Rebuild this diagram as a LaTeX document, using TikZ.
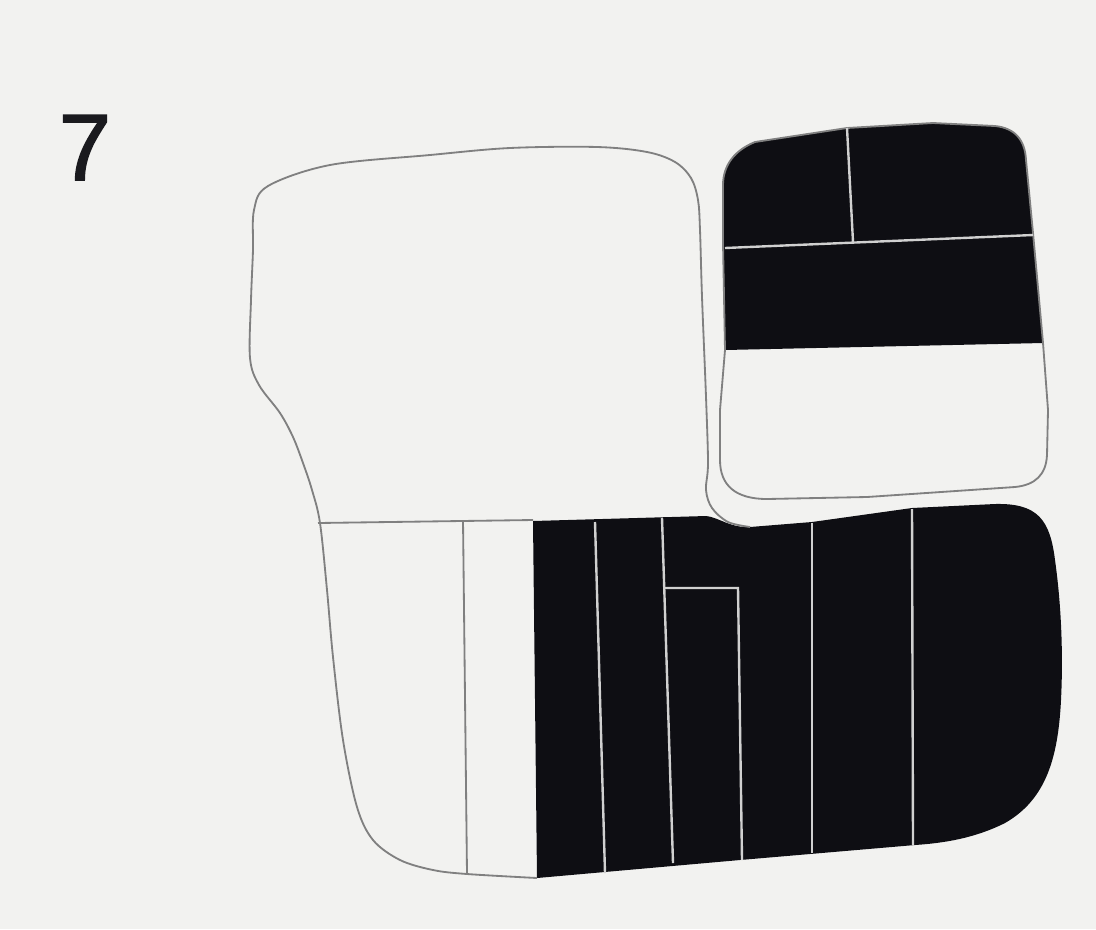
\documentclass[tikz,border=0pt]{standalone}
\usepackage{fontspec}
\newfontfamily\digitfont[FakeBold=1.6]{Liberation Sans}
\definecolor{paper}{RGB}{242,242,240}
\definecolor{inkfill}{RGB}{14,14,19}
\definecolor{penline}{RGB}{128,128,128}
\definecolor{cutline}{RGB}{208,208,208}
\definecolor{numtext}{RGB}{26,26,30}

\begin{document}
\begin{tikzpicture}[x=0.025cm, y=-0.025cm,
  outline/.style={draw=penline, line width=1.3pt, line join=round},
  ink/.style={fill=inkfill},
  cut/.style={draw=cutline, line width=1.7pt},
  numlabel/.style={font=\digitfont\fontsize{67}{67}\selectfont, text=numtext, inner sep=0pt, anchor=base}
]
% ================= PAPER =================
\fill[paper] (0,0) rectangle (1096,929);
\useasboundingbox (0,0) rectangle (1096,929);

\node[numlabel] (num) at (85,180) {7};

% ================= BOTTOM BLACK BAND =================
\fill[ink] (533,521) -- (706,516) .. controls (718,517) and (730,528) .. (750,527)
  -- (812,522) -- (912,508) -- (995,504)
  .. controls (1038,503) and (1050,520) .. (1055,560)
  .. controls (1062,610) and (1063,660) .. (1061,700)
  .. controls (1058,760) and (1045,800) .. (1005,823)
  .. controls (975,838) and (945,843) .. (915,845)
  -- (740,860) -- (537,878) -- cycle;

% --- light cuts in the band ---
\draw[cut] (595,522) -- (605,873);
\draw[cut] (662,518) -- (673,863);
\draw[cut] (665,588) -- (738,588) -- (742,860);
\draw[cut] (812,523) -- (812,853);
\draw[cut] (912,509) -- (913,845);

% ================= LEFT OUTLINE =================
\draw[outline] plot[smooth, tension=0.55] coordinates {
  (537,878) (467,874) (433,870) (400,860) (373,840) (357,807) (343,740)
  (333,657) (327,590) (320,523) (312,490) (303,463) (293,437) (280,413)
  (259,385) (250,358) (251,300) (253,250) (254,210) (268,186) (330,165)
  (430,155) (510,148) (597,147) (647,152) (675,162) (691,178) (698,200)
  (700,230) (702,297) (706,397) (708,463) (706,490) (712,508) (728,522) (750,527)};
\draw[outline] (318,523) -- (533,520);
\draw[outline] (463,520) -- (467,874);

% ================= TOP RIGHT BOX =================
\fill[ink] (725,350) -- (723,243) -- (723,185)
  .. controls (723,165) and (735,150) .. (755,142)
  -- (847,128) -- (933,123) -- (995,126)
  .. controls (1015,128) and (1025,140) .. (1026,160)
  -- (1033,233) -- (1043,343) -- cycle;
\draw[outline] (723,243) -- (723,185)
  .. controls (723,165) and (735,150) .. (755,142)
  -- (847,128) -- (933,123) -- (995,126)
  .. controls (1015,128) and (1025,140) .. (1026,160)
  -- (1033,233) -- (1043,343) -- (1048,410) -- (1047,455)
  .. controls (1046,475) and (1035,485) .. (1015,487)
  -- (867,497) -- (767,499)
  .. controls (735,499) and (720,485) .. (720,460)
  -- (720,410) -- (725,350) -- cycle;
\draw[cut] (725,248) -- (1033,235);
\draw[cut] (847,128) -- (853,242);
\end{tikzpicture}
\end{document}
